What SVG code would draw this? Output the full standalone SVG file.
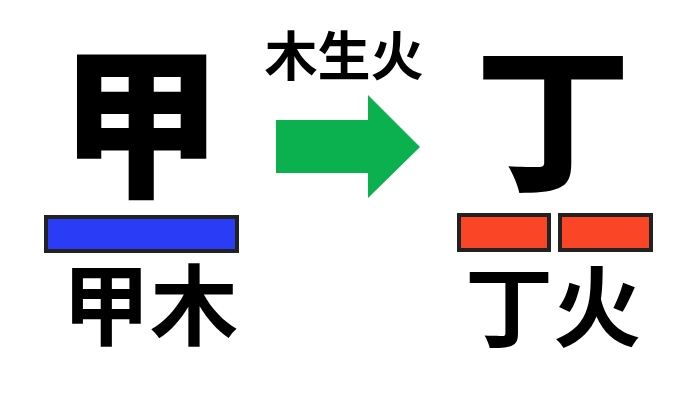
<svg xmlns="http://www.w3.org/2000/svg" width="696" height="418" viewBox="0 0 696 418">
<style>
.t{font-family:"Noto Sans CJK SC","Noto Sans CJK JP",sans-serif;font-weight:900;fill:#000;text-anchor:middle}
.s{font-weight:700}
.bar{stroke:#222;stroke-width:4}
</style>
<rect width="696" height="418" fill="#fff"/>
<g id="node-jia">
<text class="t" x="140.5" y="185" font-size="162">甲</text>
<rect class="bar" x="46" y="217" width="191" height="34" fill="#2b3cf6"/>
<text class="t s" x="150" y="338" font-size="88">甲木</text>
</g>
<g id="node-ding">
<text class="t" x="553" y="178" font-size="155">丁</text>
<rect class="bar" x="459" y="215" width="90" height="35" fill="#fa4527"/>
<rect class="bar" x="560" y="215" width="91" height="35" fill="#fa4527"/>
<text class="t s" x="553" y="340" font-size="88">丁火</text>
</g>
<g id="connectors">
<text class="t s" x="344" y="76" font-size="53">木生火</text>
<polygon points="276,120 368,120 368,95 420,147 368,198 368,173 276,173" fill="#0bb04f"/>
</g>
</svg>
